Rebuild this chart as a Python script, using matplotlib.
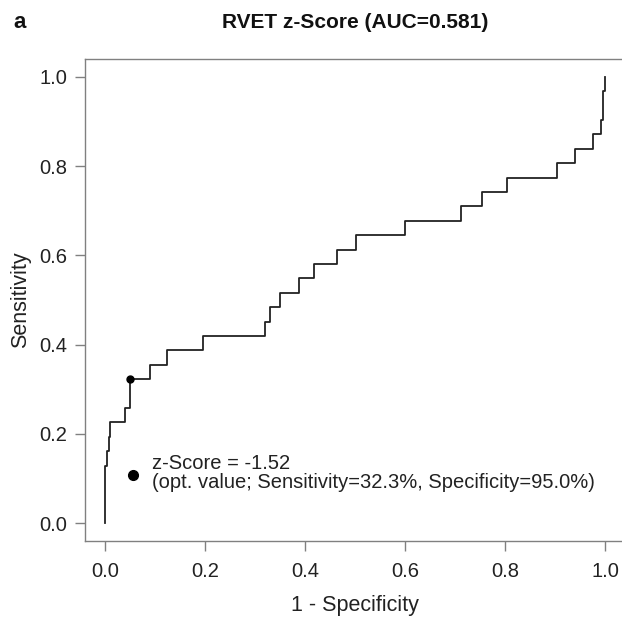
import matplotlib
matplotlib.use("Agg")
import matplotlib.pyplot as plt
import numpy as np

# ROC step points (top of each vertical step)
fpr = [0, 0, 0.0033, 0.0067, 0.01, 0.04, 0.05, 0.09, 0.123, 0.195, 0.32, 0.329,
       0.35, 0.387, 0.418, 0.463, 0.501, 0.6, 0.712, 0.753, 0.803, 0.903, 0.94,
       0.975, 0.992, 0.995, 1.0]
tp_count = [0, 4, 5, 6, 7, 8, 10, 11, 12, 13, 14, 15, 16, 17, 18, 19, 20, 21, 22,
            23, 24, 25, 26, 27, 28, 30, 31]
n_pos = 31
opt_fpr = 0.05
opt_sens = 10 / 31
title = "RVET z-Score (AUC=0.581)"
panel = "a"
legend_line1 = "z-Score = -1.52"
legend_line2 = "(opt. value; Sensitivity=32.3%, Specificity=95.0%)"
xticks = [0.0, 0.2, 0.4, 0.6, 0.8, 1.0]
yticks = [0.0, 0.2, 0.4, 0.6, 0.8, 1.0]

plt.rcParams['font.family'] = ['Liberation Sans', 'DejaVu Sans']

W, H = 622, 618
fig = plt.figure(figsize=(W / 100, H / 100), dpi=100)
left, right, top, bottom = 85.5, 625.0, 59.0, 541.0
ax = fig.add_axes([left / W, 1 - bottom / H, (right - left) / W, (bottom - top) / H])

sens = np.array(tp_count) / n_pos
ax.plot(fpr, sens, drawstyle='steps-post', color='#222222', lw=1.3)
ax.plot([opt_fpr], [opt_sens], 'o', color='black', ms=5)

ax.set_xlim(-0.04, 1.04)
ax.set_ylim(-0.04, 1.04)
ax.set_xticks(xticks)
ax.set_yticks(yticks)
ax.set_xticklabels([f"{t:.1f}" for t in xticks])
ax.set_yticklabels([f"{t:.1f}" for t in yticks])
for s in ax.spines.values():
    s.set_color('#808080')
    s.set_linewidth(1.0)
ax.tick_params(direction='out', length=7, width=1.0, color='#808080',
               labelsize=14.5, labelcolor='#222222', pad=6)
ax.tick_params(axis='x', pad=8)

# legend-like annotation
ax.plot([0.055], [0.109], 'o', color='black', ms=7)
ax.text(0.093, 0.134, legend_line1, fontsize=14.5, color='#222222', va='center', ha='left')
ax.text(0.093, 0.092, legend_line2, fontsize=14.5, color='#222222', va='center', ha='left')

fig.text((left + right) / 2 / W, 1 - 22 / H, title, fontsize=15, fontweight='bold',
         ha='center', va='center', color='#111111')
fig.text(20 / W, 1 - 22 / H, panel, fontsize=16, fontweight='bold',
         ha='center', va='center', color='#111111')
fig.text(21 / W, 1 - ((top + bottom) / 2) / H, "Sensitivity", fontsize=15.5, rotation=90,
         ha='center', va='center', color='#222222')
fig.text(355 / W, 1 - 606 / H, "1 - Specificity", fontsize=15.5,
         ha='center', va='center', color='#222222')

fig.savefig("out.png", dpi=100)
